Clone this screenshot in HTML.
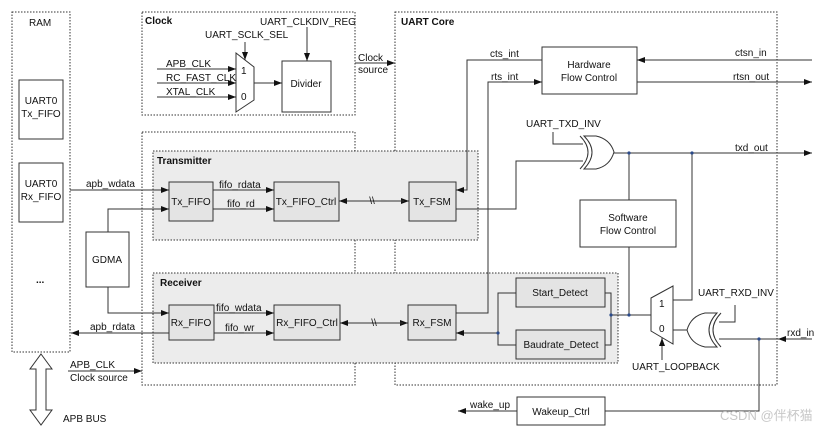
<!DOCTYPE html>
<html><head><meta charset="utf-8"><style>
html,body{margin:0;padding:0;background:#fff;}
svg{display:block;font-family:"Liberation Sans",Arial,sans-serif;font-size:10px;}
text{fill:#111;}
.b{font-weight:bold;}
</style></head><body>
<svg width="832" height="433" viewBox="0 0 832 433" xmlns="http://www.w3.org/2000/svg">
<defs>
<marker id="a" markerWidth="8" markerHeight="6" refX="8" refY="3" orient="auto" markerUnits="userSpaceOnUse"><path d="M0,0 L8,3 L0,6 z" fill="#111"/></marker>
</defs>
<g fill="none" stroke="#333" stroke-width="1" stroke-dasharray="1.5,1.5">
<rect x="12" y="12" width="58" height="340"/>
<rect x="142" y="12" width="213" height="103"/>
<rect x="142" y="132" width="213" height="253"/>
<rect x="395" y="12" width="382" height="373"/>
</g>
<g fill="#ececec" stroke="#333" stroke-width="1" stroke-dasharray="1.5,1.5">
<rect x="153" y="151" width="325" height="89"/>
<rect x="153" y="273" width="465" height="90"/>
</g>
<g fill="#fff" stroke="#333" stroke-width="1">
<rect x="19" y="80" width="44" height="59"/>
<rect x="19" y="163" width="44" height="59"/>
<rect x="86" y="232" width="43" height="55"/>
<rect x="282" y="61" width="49" height="51"/>
<rect x="169" y="182" width="44" height="39" fill="#e4e4e4"/>
<rect x="274" y="182" width="65" height="39" fill="#e4e4e4"/>
<rect x="409" y="182" width="47" height="39" fill="#e4e4e4"/>
<rect x="169" y="305" width="45" height="35" fill="#e4e4e4"/>
<rect x="274" y="305" width="66" height="35" fill="#e4e4e4"/>
<rect x="408" y="305" width="48" height="35" fill="#e4e4e4"/>
<rect x="516" y="278" width="89" height="29" fill="#e4e4e4"/>
<rect x="516" y="330" width="89" height="29" fill="#e4e4e4"/>
<rect x="542" y="47" width="95" height="47"/>
<rect x="580" y="200" width="96" height="47"/>
<rect x="517" y="397" width="88" height="28"/>
<path d="M236,53 L254,67 L254,100 L236,112 Z"/>
<path d="M651,298 L673,286 L673,344 L651,331 Z"/>
</g>
<g fill="none" stroke="#333" stroke-width="1">
<path d="M584,136 Q600,152 584,169 L596,169 Q610,166 614,152 Q610,139 596,136 Z" fill="#fff"/>
<path d="M580,136 Q596,152 580,169"/>
<path d="M717,313 Q701,330 717,347 L705,347 Q691,344 687,330 Q691,316 705,313 Z" fill="#fff"/>
<path d="M721,313 Q705,330 721,347"/>
</g>
<g stroke="#333" stroke-width="1" fill="none">
<line x1="157" y1="69" x2="236" y2="69" marker-end="url(#a)"/>
<line x1="157" y1="83" x2="236" y2="83" marker-end="url(#a)"/>
<line x1="157" y1="97" x2="236" y2="97" marker-end="url(#a)"/>
<line x1="245" y1="42" x2="245" y2="60" marker-end="url(#a)"/>
<line x1="307" y1="27" x2="307" y2="61" marker-end="url(#a)"/>
<line x1="254" y1="83" x2="282" y2="83" marker-end="url(#a)"/>
<line x1="355" y1="63" x2="395" y2="63" marker-end="url(#a)"/>
<line x1="70" y1="190" x2="169" y2="190" marker-end="url(#a)"/>
<polyline points="108,232 108,209 169,209" marker-end="url(#a)"/>
<polyline points="108,287 108,313 169,313" marker-end="url(#a)"/>
<line x1="169" y1="333" x2="71" y2="333" marker-end="url(#a)"/>
<line x1="213" y1="190" x2="274" y2="190" marker-end="url(#a)"/>
<line x1="213" y1="209" x2="274" y2="209" marker-end="url(#a)"/>
<line x1="214" y1="313" x2="274" y2="313" marker-end="url(#a)"/>
<line x1="214" y1="333" x2="274" y2="333" marker-end="url(#a)"/>
<line x1="345" y1="201" x2="409" y2="201" marker-end="url(#a)"/>
<line x1="404" y1="201" x2="339" y2="201" marker-end="url(#a)"/>
<line x1="346" y1="323" x2="408" y2="323" marker-end="url(#a)"/>
<line x1="403" y1="323" x2="340" y2="323" marker-end="url(#a)"/>
<polyline points="542,60 467,60 467,190 456,190" marker-end="url(#a)"/>
<polyline points="456,313 488,313 488,82 542,82" marker-end="url(#a)"/>
<line x1="812" y1="60" x2="637" y2="60" marker-end="url(#a)"/>
<line x1="637" y1="82" x2="812" y2="82" marker-end="url(#a)"/>
<polyline points="553,132 553,144 583,144"/>
<polyline points="456,209 516,209 516,161 583,161"/>
<line x1="614" y1="153" x2="812" y2="153" marker-end="url(#a)"/>
<line x1="629" y1="153" x2="629" y2="200"/>
<line x1="629" y1="247" x2="629" y2="315"/>
<polyline points="692,153 692,300 673,300"/>
<polyline points="516,293 498,293 498,345 516,345"/>
<line x1="498" y1="333" x2="456" y2="333" marker-end="url(#a)"/>
<polyline points="605,293 611,293 611,345 605,345"/>
<line x1="611" y1="315" x2="651" y2="315"/>
<line x1="687" y1="330" x2="673" y2="330"/>
<line x1="662" y1="360" x2="662" y2="338" marker-end="url(#a)"/>
<polyline points="735,305 735,322 719,322"/>
<line x1="812" y1="339" x2="778" y2="339" marker-end="url(#a)"/>
<line x1="778" y1="339" x2="719" y2="339"/>
<polyline points="759,339 759,411 605,411"/>
<line x1="517" y1="411" x2="458" y2="411" marker-end="url(#a)"/>
<line x1="68" y1="371" x2="142" y2="371" marker-end="url(#a)"/>
<path d="M41,354 L52,369 L46,369 L46,410 L52,410 L41,425 L30,410 L36,410 L36,369 L30,369 Z" fill="#fff"/>
</g>
<g fill="#2a4a8a">
<circle cx="629" cy="153" r="1.6"/><circle cx="692" cy="153" r="1.6"/>
<circle cx="498" cy="333" r="1.6"/><circle cx="611" cy="315" r="1.6"/>
<circle cx="629" cy="315" r="1.6"/><circle cx="759" cy="339" r="1.6"/>
</g>
<text x="29" y="26">RAM</text>
<text x="41" y="104" text-anchor="middle">UART0</text><text x="41" y="117" text-anchor="middle">Tx_FIFO</text>
<text x="41" y="187" text-anchor="middle">UART0</text><text x="41" y="200" text-anchor="middle">Rx_FIFO</text>
<text x="36" y="283" class="b">...</text>
<text x="107" y="263" text-anchor="middle">GDMA</text>
<text x="145" y="24" class="b">Clock</text>
<text x="260" y="25">UART_CLKDIV_REG</text>
<text x="205" y="38">UART_SCLK_SEL</text>
<text x="166" y="67">APB_CLK</text>
<text x="166" y="81">RC_FAST_CLK</text>
<text x="166" y="95">XTAL_CLK</text>
<text x="241" y="74">1</text><text x="241" y="100">0</text>
<text x="306" y="87" text-anchor="middle">Divider</text>
<text x="358" y="61">Clock</text><text x="358" y="73">source</text>
<text x="401" y="25" class="b">UART Core</text>
<text x="157" y="164" class="b">Transmitter</text>
<text x="160" y="286" class="b">Receiver</text>
<text x="86" y="187">apb_wdata</text>
<text x="90" y="330">apb_rdata</text>
<text x="219" y="188">fifo_rdata</text>
<text x="227" y="207">fifo_rd</text>
<text x="216" y="311">fifo_wdata</text>
<text x="225" y="331">fifo_wr</text>
<text x="191" y="205" text-anchor="middle">Tx_FIFO</text>
<text x="306" y="205" text-anchor="middle">Tx_FIFO_Ctrl</text>
<text x="432" y="205" text-anchor="middle">Tx_FSM</text>
<text x="191" y="326" text-anchor="middle">Rx_FIFO</text>
<text x="307" y="326" text-anchor="middle">Rx_FIFO_Ctrl</text>
<text x="432" y="326" text-anchor="middle">Rx_FSM</text>
<text x="372" y="204" text-anchor="middle">\\</text>
<text x="374" y="326" text-anchor="middle">\\</text>
<text x="560" y="296" text-anchor="middle">Start_Detect</text>
<text x="561" y="348" text-anchor="middle">Baudrate_Detect</text>
<text x="589" y="68" text-anchor="middle">Hardware</text><text x="589" y="81" text-anchor="middle">Flow Control</text>
<text x="628" y="221" text-anchor="middle">Software</text><text x="628" y="234" text-anchor="middle">Flow Control</text>
<text x="490" y="57">cts_int</text><text x="491" y="80">rts_int</text>
<text x="735" y="56">ctsn_in</text><text x="733" y="80">rtsn_out</text>
<text x="526" y="127">UART_TXD_INV</text>
<text x="735" y="151">txd_out</text>
<text x="698" y="296">UART_RXD_INV</text>
<text x="659" y="307">1</text><text x="659" y="332">0</text>
<text x="632" y="370">UART_LOOPBACK</text>
<text x="787" y="336">rxd_in</text>
<text x="561" y="415" text-anchor="middle">Wakeup_Ctrl</text>
<text x="470" y="408">wake_up</text>
<text x="70" y="368">APB_CLK</text>
<text x="70" y="381">Clock source</text>
<text x="63" y="422">APB BUS</text>
<text x="720" y="420" style="fill:#c8c8c8;font-size:13px;font-family:'Liberation Sans','Noto Sans CJK SC',sans-serif">CSDN @伴杯猫</text>
</svg>
</body></html>
